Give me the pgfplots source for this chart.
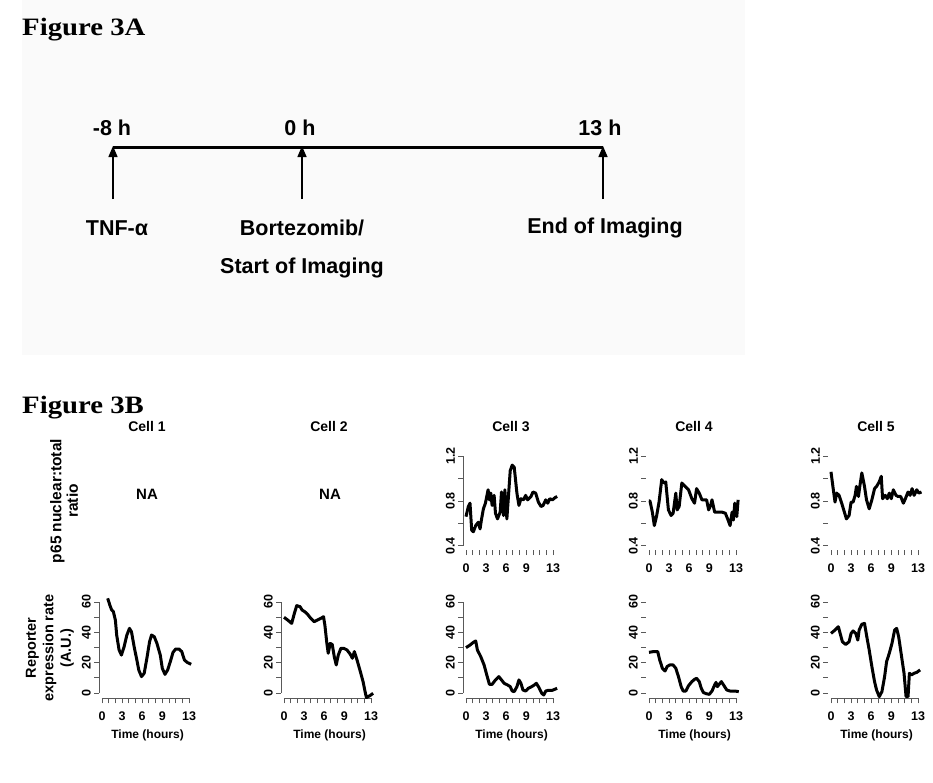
\documentclass[border=0pt]{standalone}
\usepackage{fontspec}
\setmainfont{Liberation Sans}
\newfontfamily\seriffont{Liberation Serif}
\usepackage{pgfplots}
\usepackage{pgfplotstable}
\pgfplotsset{compat=1.18}
\usetikzlibrary{arrows.meta}

% p65 nuclear:total ratio, cells 3-5
\pgfplotstableread{
t v
0 0.66
0.35 0.75
0.6 0.78
0.85 0.54
1.1 0.525
1.45 0.58
1.84 0.61
2.1 0.55
2.3 0.63
2.6 0.73
2.9 0.78
3.3 0.90
3.5 0.81
3.7 0.87
3.9 0.76
4.2 0.85
4.4 0.69
4.7 0.64
5.1 0.70
5.3 0.88
5.6 0.67
5.8 0.90
6.1 0.64
6.3 0.81
6.6 1.07
6.9 1.12
7.2 1.10
7.6 0.87
7.9 0.76
8.2 0.82
8.6 0.81
8.9 0.85
9.2 0.81
9.7 0.84
10.0 0.88
10.4 0.87
10.8 0.79
11.2 0.75
11.5 0.76
11.9 0.81
12.2 0.78
12.5 0.82
12.9 0.81
13.3 0.83
13.6 0.84
}\pthree
\pgfplotstableread{
t v
0 0.80
0.15 0.80
0.5 0.70
0.8 0.58
1.15 0.67
1.5 0.79
1.9 0.99
2.2 0.96
2.5 0.97
2.9 0.72
3.3 0.67
3.6 0.69
4.0 0.87
4.2 0.72
4.5 0.75
4.9 0.96
5.4 0.93
5.9 0.90
6.4 0.82
6.8 0.78
7.1 0.91
7.5 0.87
7.9 0.81
8.3 0.81
8.6 0.81
8.9 0.72
9.2 0.76
9.4 0.81
9.8 0.70
10.4 0.70
10.9 0.70
11.4 0.69
11.8 0.63
12.1 0.58
12.4 0.70
12.6 0.63
12.8 0.78
13.1 0.66
13.3 0.81
}\pfour
\pgfplotstableread{
t v
0 1.06
0.35 0.90
0.6 0.79
0.85 0.87
1.2 0.85
1.6 0.78
2.0 0.70
2.3 0.64
2.7 0.67
3.0 0.79
3.3 0.79
3.6 0.85
3.8 0.93
4.1 0.84
4.3 0.93
4.6 1.05
5.0 0.93
5.3 0.81
5.7 0.73
6.1 0.81
6.5 0.91
6.8 0.93
7.2 0.97
7.5 1.02
7.7 0.82
8.1 0.85
8.4 0.82
8.7 0.87
9.0 0.82
9.3 0.90
9.7 0.85
10.0 0.84
10.4 0.84
10.8 0.78
11.1 0.82
11.5 0.88
11.8 0.85
12.1 0.91
12.4 0.85
12.8 0.90
13.1 0.87
13.5 0.88
}\pfive

% reporter expression rate, cells 1-5
\pgfplotstableread{
t v
0.85 62.4
1.2 57.6
1.45 54.7
1.7 53.6
2.0 48
2.2 38
2.55 28.4
2.9 25
3.3 30.5
3.7 38
4.1 42.6
4.4 40.4
4.8 30.5
5.2 21.8
5.5 15
5.9 10.8
6.3 13
6.7 22.9
7.1 33.8
7.4 38.2
7.8 37.1
8.2 32.7
8.7 25
9.0 16.3
9.4 12.3
9.8 15.2
10.2 20.7
10.6 26.8
11.0 29
11.5 29
11.9 27.3
12.3 21.8
12.7 20.2
13.3 18.9
}\rone
\pgfplotstableread{
t v
0 49.9
0.55 48.1
1.15 45.9
1.55 52.5
1.9 57.6
2.4 56.9
2.7 54.7
3.1 53.6
3.5 52
4.0 49.2
4.5 47
5.0 48.1
5.5 49.2
5.9 50.3
6.1 44.8
6.4 32.7
6.6 26.2
6.9 32.7
7.2 32
7.5 24
7.8 18.5
8.1 25
8.5 29.5
8.9 29.5
9.4 28.4
9.9 25.5
10.2 22.9
10.5 27.3
10.9 21.8
11.4 14
11.8 7.5
12.1 0.9
12.3 -3
12.8 -1.8
13.3 -0.2
}\rtwo
\pgfplotstableread{
t v
0 29.9
0.6 31.6
1.1 33.4
1.45 34.3
1.7 28.4
2.2 24
2.7 18.5
3.1 11.9
3.5 5.7
3.9 5.7
4.4 8.6
4.9 10.8
5.3 8.6
5.7 6.4
6.2 5.3
6.6 4.2
6.9 1.3
7.2 0.9
7.6 4.2
7.9 8.6
8.2 6.4
8.5 2
8.9 1.3
9.3 3.1
9.8 4.2
10.2 5.3
10.5 6.4
10.9 3.5
11.3 -0.2
11.6 -1.3
11.9 1.3
12.3 1.8
12.9 1.8
13.6 3.1
}\rthree
\pgfplotstableread{
t v
0 26.8
0.65 27.3
1.3 27.3
1.6 21.8
2.0 16.3
2.4 14.5
2.7 17.4
3.1 18.5
3.6 18.5
4.0 16.3
4.4 10.8
4.8 4.2
5.1 1.3
5.5 1.3
5.9 4.8
6.4 7.5
6.8 9
7.1 9.7
7.5 7.5
7.8 3.1
8.1 0.4
8.5 -0.4
9.0 -0.9
9.4 1.3
9.8 5.3
10.0 7
10.2 4.2
10.6 6.4
10.8 7.5
11.2 4.8
11.6 2
12.1 1.3
12.8 1.3
13.4 0.9
}\rfour
\pgfplotstableread{
t v
0 39.3
0.6 41.5
1.1 43.7
1.3 40.4
1.7 33.8
2.2 32
2.7 33.8
3.0 39.3
3.3 40.9
3.7 39.3
4.0 34.9
4.2 41.5
4.6 45.3
5.0 45.9
5.3 38.2
5.7 28.4
6.1 17.4
6.5 7.5
6.8 2
7.2 -2.4
7.6 0.9
8.0 10.8
8.3 20.7
8.7 26.2
9.1 32.7
9.5 41.5
9.8 42.6
10.1 37.1
10.5 25
10.9 13
11.2 -2.4
11.5 -2.4
11.7 13
12.0 11.9
12.4 13
12.8 13.6
13.3 15.2
}\rfive

\pgfplotsset{
  cell/.style={
    scale only axis, width=96.5pt, xmin=-0.4, xmax=14,
    axis line style={draw=none},
    tick align=outside, major tick length=5pt, minor tick length=5pt,
    xtick pos=bottom, ytick pos=left,
    tick style={black!65, line width=0.8pt},
    xtick={0,3,6,9,13}, minor xtick={1,2,4,5,7,8,10,11,12},
    xticklabels={0,3,6,9,13},
    ticklabel style={font=\fontsize{12.5}{12.5}\selectfont\bfseries},
    xticklabel style={yshift=-5pt},
    yticklabel style={rotate=90, anchor=south},
    /pgf/number format/assume math mode=true,
    clip=false,
    every axis plot post/.append style={black, line width=3pt, line join=round, mark=none},
  },
  top/.style={cell, height=96.1pt, ymin=0.362, ymax=1.22,
    ytick={0.4,0.8,1.2}, minor ytick={0.6,1.0}, yticklabels={0.4,0.8,1.2}},
  bot/.style={cell, height=102.4pt, ymin=-3.5, ymax=64,
    ytick={0,20,40,60}, minor ytick={10,30,50}, yticklabels={0,20,40,60},
    xlabel={Time (hours)},
    xlabel style={font=\fontsize{12}{12}\selectfont\bfseries, yshift=-2pt}},
}
\newcommand{\ylinetop}{\draw[black!65, line width=0.8pt] (axis cs:-0.4,0.4) -- (axis cs:-0.4,1.2);}
\newcommand{\ylinebot}{\draw[black!65, line width=0.8pt] (axis cs:-0.4,0) -- (axis cs:-0.4,60);}
\newcommand{\xlinebot}{\draw[black!65, line width=0.8pt] (axis cs:0,-3.5) -- (axis cs:13,-3.5);}

\begin{document}
\begin{tikzpicture}
\path[use as bounding box] (0,0) rectangle (933pt,-782pt);
\begin{scope}[x=1pt,y=-1pt]
  \fill[black!2] (22,0) rectangle (745,355);
  \node[anchor=base west, inner sep=0, font=\seriffont\bfseries\fontsize{25}{25}\selectfont] at (22,35) {\scalebox{1.15}[1]{Figure 3A}};
  \node[anchor=base west, inner sep=0, font=\seriffont\bfseries\fontsize{25}{25}\selectfont] at (22,413) {\scalebox{1.15}[1]{Figure 3B}};
  \draw[line width=3pt] (113,147) -- (603,147);
  \foreach \xx in {113,302,603}
    \draw[line width=1.5pt, -{Triangle[length=11pt,width=9pt]}] (\xx,199) -- (\xx,146);
  \begin{scope}[every node/.style={font=\bfseries\fontsize{21.5}{24}\selectfont, inner sep=0}]
    \node at (112,128) {-8 h};
    \node at (300,128) {0 h};
    \node at (600,128) {13 h};
    \node at (117,228) {TNF-α};
    \node at (302,228) {Bortezomib/};
    \node at (302,268) {Start of Imaging};
    \node at (605,228) {End of Imaging};
  \end{scope}
  \begin{scope}[every node/.style={font=\bfseries\fontsize{14}{16}\selectfont, inner sep=0}]
    \node at (147,426) {Cell 1};
    \node at (329,426) {Cell 2};
    \node at (511,426) {Cell 3};
    \node at (694,426) {Cell 4};
    \node at (876,426) {Cell 5};
    \node[font=\bfseries\fontsize{15}{16}\selectfont] at (147,494) {NA};
    \node[font=\bfseries\fontsize{15}{16}\selectfont] at (330,494) {NA};
    \node[rotate=90, align=center, font=\bfseries\fontsize{15.5}{16.5}\selectfont] at (64,501) {p65 nuclear:total\\ratio};
    \node[rotate=90, align=center, font=\bfseries\fontsize{14.5}{17.5}\selectfont] at (50,648) {Reporter\\expression rate\\(A.U.)};
  \end{scope}
\end{scope}

% top row
\begin{axis}[top, at={(463.3pt,-550pt)}, anchor=south west]
  \ylinetop
  \addplot table[x=t,y=v] {\pthree};
\end{axis}
\begin{axis}[top, at={(646.3pt,-550pt)}, anchor=south west]
  \addplot table[x=t,y=v] {\pfour};
\end{axis}
\begin{axis}[top, at={(828.3pt,-550pt)}, anchor=south west]
  \addplot table[x=t,y=v] {\pfive};
\end{axis}

% bottom row
\begin{axis}[bot, at={(99.3pt,-698.3pt)}, anchor=south west]
  \ylinebot \xlinebot
  \addplot table[x=t,y=v] {\rone};
\end{axis}
\begin{axis}[bot, at={(281.3pt,-698.3pt)}, anchor=south west]
  \ylinebot \xlinebot
  \addplot table[x=t,y=v] {\rtwo};
\end{axis}
\begin{axis}[bot, at={(463.3pt,-698.3pt)}, anchor=south west]
  \ylinebot \xlinebot
  \addplot table[x=t,y=v] {\rthree};
\end{axis}
\begin{axis}[bot, at={(646.3pt,-698.3pt)}, anchor=south west]
  \xlinebot
  \addplot table[x=t,y=v] {\rfour};
\end{axis}
\begin{axis}[bot, at={(828.3pt,-698.3pt)}, anchor=south west]
  \xlinebot
  \addplot table[x=t,y=v] {\rfive};
\end{axis}
\end{tikzpicture}
\end{document}
